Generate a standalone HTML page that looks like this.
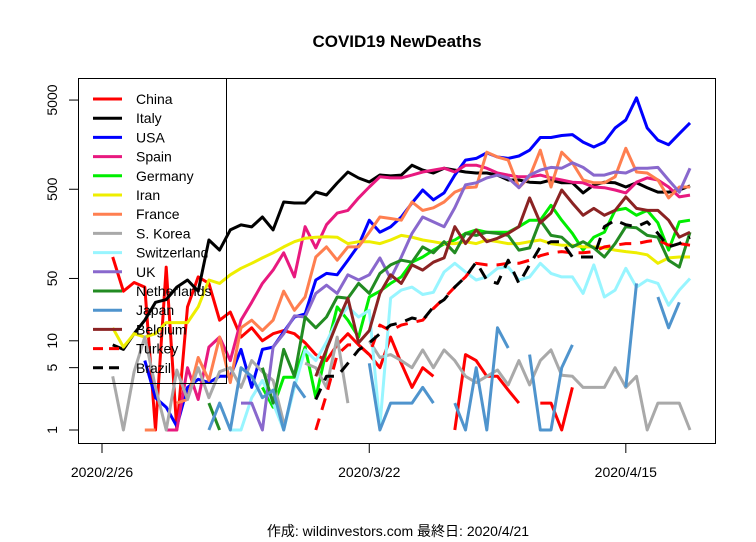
<!DOCTYPE html>
<html><head><meta charset="utf-8"><style>
html,body{margin:0;padding:0;background:#fff;}
svg{display:block;font-family:"Liberation Sans","Noto Sans CJK JP",sans-serif;}
</style></head><body>
<svg id="chart" width="756" height="542" viewBox="0 0 756 542" xmlns="http://www.w3.org/2000/svg">
<rect x="0" y="0" width="756" height="542" fill="#fff"/>
<text x="397" y="47" text-anchor="middle" font-size="17" font-weight="bold">COVID19 NewDeaths</text>
<defs><clipPath id="clip"><rect x="79" y="79" width="636" height="364"/></clipPath></defs>
<g id="series" clip-path="url(#clip)"></g>
<rect x="78.5" y="78.5" width="637" height="365" fill="none" stroke="#000" stroke-width="1"/>
<g id="axes"></g>
<g id="legend"></g>
<text x="398" y="536" text-anchor="middle" font-size="14">作成: wildinvestors.com 最終日: 2020/4/21</text>
</svg>
<script>
const tickLabelsX = ["2020/2/26","2020/3/22","2020/4/15"];
const tickIdxX = [-1, 24, 48];
const tickValsY = [1,5,10,50,500,5000];
const seriesNames = ["China","Italy","USA","Spain","Germany","Iran","France","S. Korea","Switzerland","UK","Netherlands","Japan","Belgium","Turkey","Brazil"];
const seriesColors = ["#ff0000","#000000","#0000ff","#e8197f","#00ee00","#eeee00","#ff7f50","#a9a9a9","#98f5ff","#8968cd","#228b22","#4f94cd","#8b2323","#ff0000","#000000"];
const seriesDashed = [false,false,false,false,false,false,false,false,false,false,false,false,false,true,true];
const N = null;
const china = [87,36,45,40,1,67,1,24,52,44,17,21,11,14,10,12,13,12,9.5,7,6,9,12,9,7,5,11,5.6,3,5,4,N,1,7,6,4,4,2.8,2,N,2,2,1,3,N,N,N,N,N,N,N,N,N,N,N];
const italy = [9,8,12,17,27,29,40,48,36,135,104,175,199,189,244,175,360,351,351,466,431,588,780,668,603,722,705,720,930,820,760,860,820,780,760,760,720,635,635,600,590,635,590,590,455,560,600,590,530,590,520,465,465,490,545];
const usa = [N,N,N,6,2.3,1.8,1.1,3,3.7,3.4,4,4,8,3,8,8.5,12.6,18.5,20,48,57,55,80,118,225,165,189,244,351,490,380,455,720,1060,1110,1280,1150,1110,1180,1370,1900,1900,2000,2050,1690,1490,1690,2430,2990,5300,2430,1780,1580,2100,2770];
const spain = [N,N,N,N,N,1,1,5,2.2,8.5,11,6,17,27,44,62,97,52,190,110,200,270,290,400,530,690,670,670,720,780,820,860,780,930,930,860,760,720,690,690,720,670,635,600,590,530,520,490,455,600,670,635,530,410,430];
const germany = [N,N,N,N,N,N,N,N,N,N,N,N,N,N,3,1.8,3.9,3.9,8.5,2.3,7.9,24,17,11,31,36,44,52,76,87,104,122,135,160,175,165,165,165,190,225,225,330,225,160,104,145,165,290,305,255,290,210,104,215,225];
const iran = [14,8.5,12,11,12,16,16,16,24,48,44,55,65,74,85,97,113,129,141,145,147,145,123,129,129,123,135,152,145,135,129,123,123,129,123,135,129,123,123,129,135,123,118,118,113,113,110,104,100,97,92,74,85,87,87];
const france = [N,N,N,1,1,N,2,2.2,6.5,3.6,11,3.4,14,17,13,17,36,22,31,87,113,80,113,113,165,244,235,225,360,290,310,360,465,520,530,1300,1150,1060,520,690,1370,530,1300,990,635,590,590,690,1440,780,760,635,400,530,530];
const korea = [4,1,4.5,11,3,1,4.7,2.2,5,2.3,4.5,5,3,6,4.5,3.6,1.2,N,5.6,5,3,11,2,N,10,6.5,7,6,5,7.9,5,7.9,6,4,3.4,4,4.7,3.2,6,3.2,6,7.9,4.1,4,3,3,3,5,3,4,1,2,2,2,1];
const swiss = [N,N,N,N,N,N,N,N,N,N,N,1,1,2.3,3.6,2,1,3,7.9,6,9.7,17,24,18.5,22,1.1,30,37,40,33,35,59,74,59,48,52,65,67,48,52,74,57,52,52,34,71,31,37,65,40,48,44,25,37,50];
const uk = [N,N,N,N,N,N,N,N,N,N,N,N,2,2,1,8.5,12,19,18.5,34,42,34,55,48,55,85,50,87,160,244,215,190,310,560,590,670,720,670,520,720,820,880,860,990,880,720,720,780,760,860,860,880,635,465,860];
const netherlands = [N,N,N,N,N,N,N,N,N,2,1,N,N,N,5,2,8,4,18.5,14,18.5,31,30,44,34,57,71,80,76,113,97,129,97,160,152,165,160,152,104,110,225,152,145,113,129,110,87,123,190,185,152,145,80,67,165];
const japan = [N,N,N,N,N,N,N,N,N,1,2,1,5,4,2.3,2.8,1,3.4,2.3,N,N,N,N,N,5.6,1,2,2,2,3,2,N,2,1,5,1,14,8.3,N,7,1,1,5,9,N,N,N,N,3,44,N,31,14,27,N];
const belgium = [N,N,N,N,N,N,N,N,N,N,N,N,N,N,N,N,N,N,N,4,8,16,30,9.5,13,34,55,44,71,62,76,85,190,123,175,129,141,160,190,400,210,270,490,350,255,305,255,290,410,305,290,290,225,145,165];
const turkey = [N,N,N,N,N,N,N,N,N,N,N,N,N,N,N,N,N,N,N,1,2.5,7,9,9,7,15,13,15,16,17,23,30,40,52,74,71,71,74,74,80,90,97,100,97,97,100,113,118,123,123,130,135,118,123,118];
const brazil = [N,N,N,N,N,N,N,N,N,N,N,N,N,N,N,N,N,N,N,2.2,4,4,5.6,7.9,9.5,12,15,16,18,17,24,29,40,52,76,48,44,80,44,71,113,129,129,87,87,87,190,225,200,190,215,160,113,123,145];
const seriesData = [china,italy,usa,spain,germany,iran,france,korea,swiss,uk,netherlands,japan,belgium,turkey,brazil];

const NS = "http://www.w3.org/2000/svg";
function xPos(i){ return 112.7 + 10.69*i; }
function yPos(v){ return 430 - Math.log10(v)*89.2; }
function mk(tag, attrs){ const e=document.createElementNS(NS,tag); for(const k in attrs) e.setAttribute(k,attrs[k]); return e; }

const gS = document.getElementById("series");
seriesData.forEach((arr, s) => {
  let segs = [], cur = [];
  arr.forEach((v,i) => {
    if (v === null || v === undefined || v <= 0) { if (cur.length) segs.push(cur); cur = []; }
    else cur.push(xPos(i).toFixed(1)+","+yPos(v).toFixed(1));
  });
  if (cur.length) segs.push(cur);
  const g = mk("g", {});
  
  
  segs.forEach(seg => {
    if (seg.length < 2) return;
    const p = mk("polyline", {points: seg.join(" "), fill:"none", stroke: seriesColors[s], "stroke-width":"3", "stroke-linejoin":"round"});
    if (seriesDashed[s]) p.setAttribute("stroke-dasharray","12,9");
    
    
    g.appendChild(p);
  });
  gS.appendChild(g);
});

const gA = document.getElementById("axes");
tickIdxX.forEach((t,k) => {
  const x = xPos(t);
  const l = mk("line",{x1:x,x2:x,y1:444,y2:453,stroke:"#000"});
  
  
  gA.appendChild(l);
  const tx = mk("text",{x:x,y:477,"text-anchor":"middle","font-size":"14"});
  tx.textContent = tickLabelsX[k];
  
  
  gA.appendChild(tx);
});
tickValsY.forEach(v => {
  const y = yPos(v);
  const l = mk("line",{x1:69,x2:78,y1:y,y2:y,stroke:"#000"});
  
  
  gA.appendChild(l);
  const tx = mk("text",{x:0,y:0,"text-anchor":"middle","font-size":"14",transform:"translate(57,"+y+") rotate(-90)"});
  tx.textContent = String(v);
  
  
  gA.appendChild(tx);
});

const gL = document.getElementById("legend");
const lbox = mk("rect",{x:78.5,y:78.5,width:148,height:305,fill:"none",stroke:"#000"});


gL.appendChild(lbox);
seriesNames.forEach((nm,s) => {
  const y = 99 + s*19.2;
  const g = mk("g",{});
  
  
  const l = mk("line",{x1:93,x2:122,y1:y,y2:y,stroke:seriesColors[s],"stroke-width":"3"});
  if (seriesDashed[s]) l.setAttribute("stroke-dasharray","10,6");
  g.appendChild(l);
  const t = mk("text",{x:136,y:y+5,"font-size":"14"});
  t.textContent = nm;
  g.appendChild(t);
  gL.appendChild(g);
});
</script>
</body></html>
